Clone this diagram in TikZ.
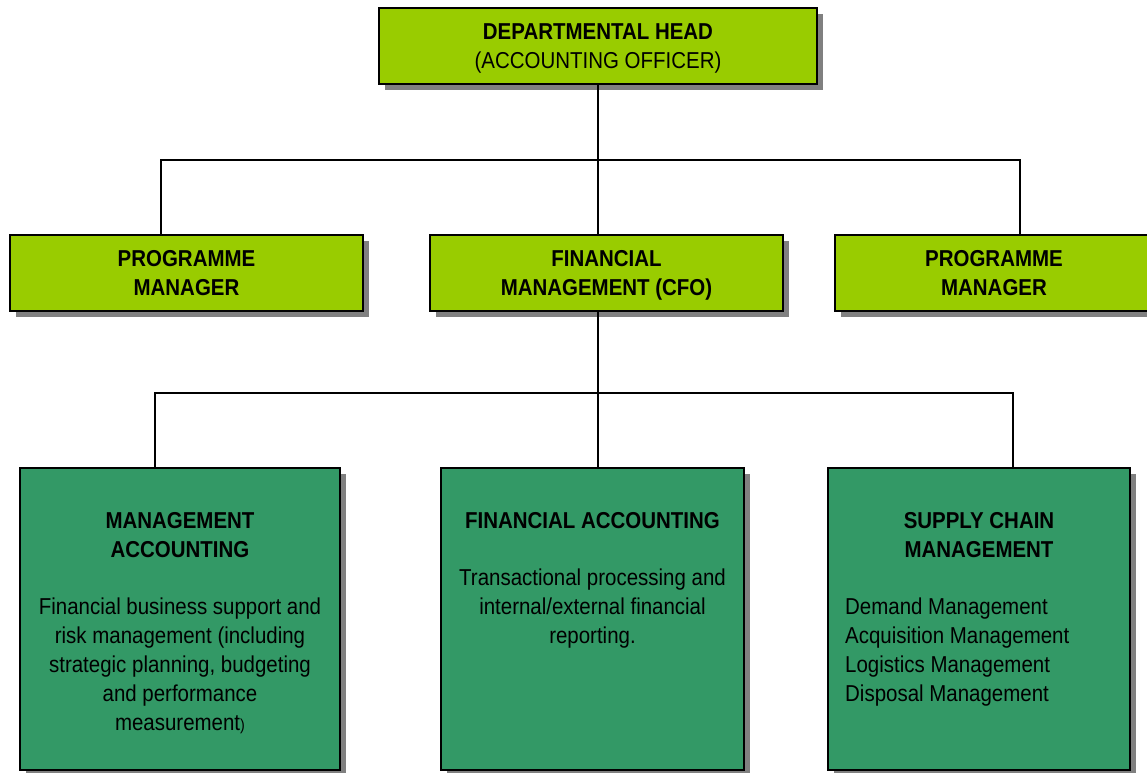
\documentclass[tikz,border=0pt]{standalone}
\usepackage{fontspec}
\setmainfont{Liberation Sans}[FakeStretch=0.89]
\usetikzlibrary{shadows}
\definecolor{lgreen}{HTML}{99CC00}
\definecolor{dgreen}{HTML}{339966}
\definecolor{shgray}{HTML}{808080}
\begin{document}
\begin{tikzpicture}[x=1pt,y=-1pt,
  box/.style={draw=black, line width=1.3pt, inner sep=0pt, outer sep=0pt,
    drop shadow={shadow xshift=5.5pt, shadow yshift=-5.5pt, fill=shgray, opacity=1}},
  topbox/.style={box, fill=lgreen, minimum height=76pt},
  lowbox/.style={box, fill=dgreen, minimum height=302pt},
  txt/.style={anchor=base, align=center, inner sep=0pt, font=\fontsize{23}{29}\selectfont},
  btxt/.style={txt, font=\fontsize{23}{29}\selectfont\bfseries},
  conn/.style={draw=black, line width=1.3pt}]
\useasboundingbox (0,0) rectangle (1147,772);
\clip (0,0) rectangle (1147,772);
% boxes
\node[topbox, minimum width=438pt] (head) at (598,46) {};
\node[topbox, minimum width=353pt] (pm1) at (186.5,273) {};
\node[topbox, minimum width=353pt] (cfo) at (606.5,273) {};
\node[topbox, minimum width=340pt] (pm2) at (1005,273) {};
\node[lowbox, minimum width=320pt] (ma) at (180,619) {};
\node[lowbox, minimum width=303pt] (fa) at (592.5,619) {};
\node[lowbox, minimum width=302pt] (scm) at (979,619) {};
% texts (anchor base = baseline of the last line)
\node[txt] (headt) at (598,68.5) {\bfseries DEPARTMENTAL HEAD\\(ACCOUNTING OFFICER)};
\node[btxt] (pm1t) at (186.5,295) {PROGRAMME\\MANAGER};
\node[btxt] (cfot) at (606.5,295) {FINANCIAL\\MANAGEMENT (CFO)};
\node[btxt] (pm2t) at (994,295) {PROGRAMME\\MANAGER};
\node[btxt] (mat) at (180,557) {MANAGEMENT\\ACCOUNTING};
\node[txt] (mab) at (180,730) {Financial business support and\\risk management (including\\strategic planning, budgeting\\and performance\\measurement{\fontsize{16}{29}\selectfont)}};
\node[btxt] (fat) at (592.5,528) {FINANCIAL ACCOUNTING};
\node[txt] (fab) at (592.5,643) {Transactional processing and\\internal/external financial\\reporting.};
\node[btxt] (scmt) at (979,557) {SUPPLY CHAIN\\MANAGEMENT};
\node[txt, anchor=base west, align=left] (scmb) at (845,701) {Demand Management\\Acquisition Management\\Logistics Management\\Disposal Management};
% connectors
\coordinate (b1) at (161,160);
\coordinate (b2) at (1020,160);
\coordinate (c1) at (155,393);
\coordinate (c2) at (1013,393);
\draw[conn] (head.south) -- (head.south |- cfo.north);
\draw[conn] (b1 |- pm1.north) -- (b1) -- (b2) -- (b2 |- pm2.north);
\draw[conn] (head.south |- cfo.south) -- (head.south |- fa.north);
\draw[conn] (c1 |- ma.north) -- (c1) -- (c2) -- (c2 |- scm.north);
\end{tikzpicture}
\end{document}
